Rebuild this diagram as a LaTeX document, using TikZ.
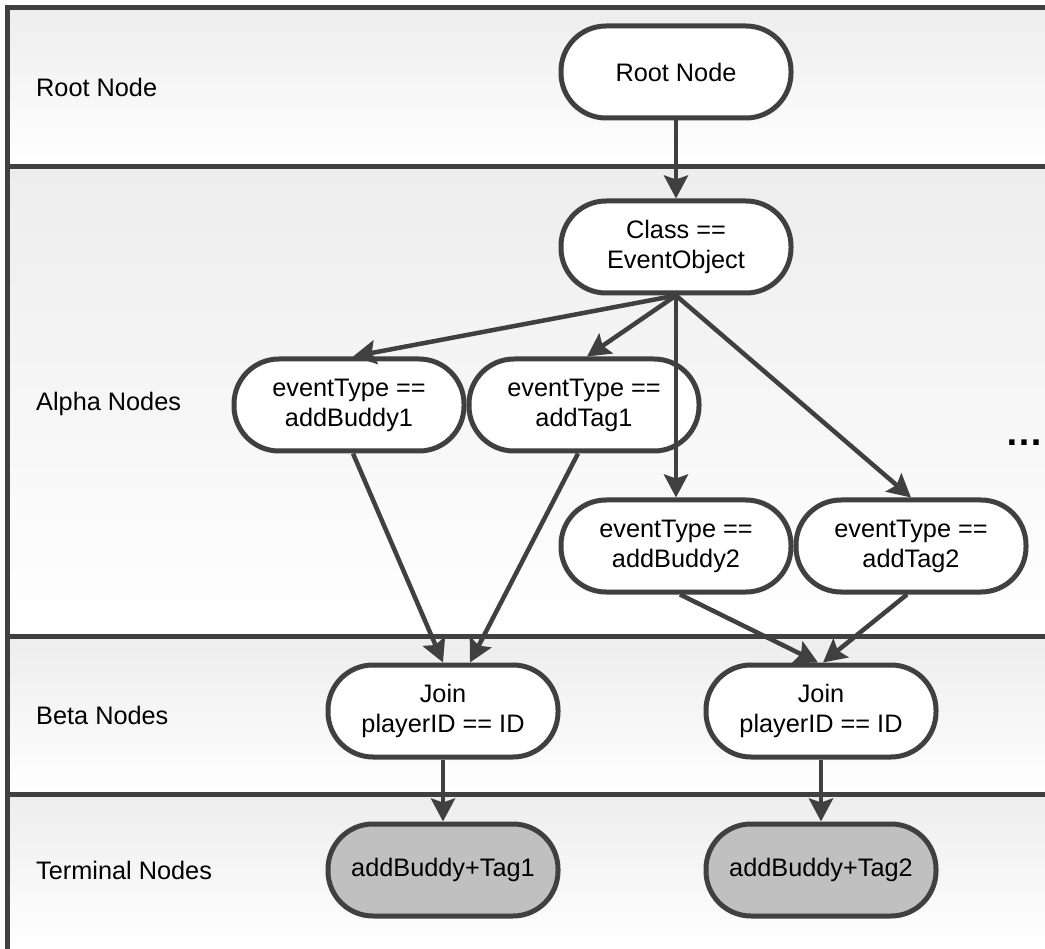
\documentclass[tikz,border=0pt]{standalone}
\usepackage{fontspec}
\setmainfont{Liberation Sans}
\usetikzlibrary{arrows.meta,calc}

\definecolor{linec}{HTML}{404040}
\definecolor{termfill}{HTML}{C0C0C0}
\definecolor{lanetop}{HTML}{EDEDED}

\newcommand{\nodefont}{\fontsize{25.3}{30}\selectfont}

\tikzset{
  laneline/.style={draw=linec, line width=5pt},
  lanebg/.style={top color=lanetop, bottom color=white},
  lanelabel/.style={anchor=west, inner sep=0pt, font=\nodefont},
  rnode/.style={draw=linec, line width=5pt, rounded corners=45pt,
    minimum width=230pt, minimum height=92pt, fill=white,
    align=center, inner sep=0pt, font=\nodefont},
  termnode/.style={rnode, fill=termfill},
  conn/.style={draw=linec, line width=4.5pt,
    -{Stealth[length=23pt, width=24pt, inset=4pt]}},
}

\begin{document}
\begin{tikzpicture}[x=1pt, y=-1pt]
  \useasboundingbox (0,0) rectangle (1045,949);
  \fill[white] (0,0) rectangle (1045,949);

  % lane backgrounds
  \shade[lanebg] (7,8)   rectangle (1045,167);
  \shade[lanebg] (7,167) rectangle (1045,636);
  \shade[lanebg] (7,636) rectangle (1045,794);
  \shade[lanebg] (7,794) rectangle (1045,949);

  % lane frame
  \draw[laneline] (7,949) -- (7,8) -- (1045,8);
  \draw[laneline] (7,167) -- (1045,167);
  \draw[laneline] (7,636) -- (1045,636);
  \draw[laneline] (7,794) -- (1045,794);

  % lane labels
  \node[lanelabel] (lroot)  at (36,87)  {Root Node};
  \node[lanelabel] (lalpha) at (36,404) {Alpha Nodes};
  \node[lanelabel] (lbeta)  at (36,715) {Beta Nodes};
  \node[lanelabel] (lterm)  at (36,870) {Terminal Nodes};

  % network nodes
  \node[rnode] (root) at (676,72)  {Root Node};
  \node[rnode] (cls)  at (676,247) {Class ==\\EventObject};
  \node[rnode] (ab1)  at (349,405) {eventType ==\\addBuddy1};
  \node[rnode] (at1)  at (584,405) {eventType ==\\addTag1};
  \node[rnode] (ab2)  at (676,546) {eventType ==\\addBuddy2};
  \node[rnode] (at2)  at (911,546) {eventType ==\\addTag2};
  \node[rnode] (j1)   at (443,711) {Join\\playerID == ID};
  \node[rnode] (j2)   at (821,711) {Join\\playerID == ID};
  \node[termnode] (t1) at (443,870) {addBuddy+Tag1};
  \node[termnode] (t2) at (821,870) {addBuddy+Tag2};

  \node[anchor=base, inner sep=0pt, font=\fontsize{38}{38}\selectfont\bfseries]
    (more) at (1024,446) {…};

  % connectors
  \draw[conn] (root.south) -- (cls.north);
  \draw[conn] (cls.south) -- ($(ab1.north)+(4,0)$);
  \draw[conn] (cls.south) -- ($(at1.north)+(3,0)$);
  \draw[conn] (cls.south) -- (ab2.north);
  \draw[conn] (cls.south) -- (at2.north);
  \draw[conn] ($(ab1.south)+(4,0)$)  -- ($(j1.north)+(0,0)$);
  \draw[conn] ($(at1.south)+(-6,0)$) -- ($(j1.north)+(27,0)$);
  \draw[conn] ($(ab2.south)+(4,0)$)  -- ($(j2.north)+(-3,0)$);
  \draw[conn] ($(at2.south)+(-4,0)$) -- ($(j2.north)+(2,0)$);
  \draw[conn] (j1.south) -- (t1.north);
  \draw[conn] (j2.south) -- (t2.north);
\end{tikzpicture}
\end{document}
